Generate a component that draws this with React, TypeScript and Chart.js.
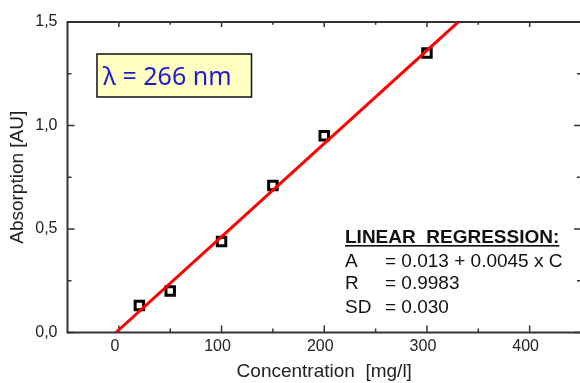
import { useEffect, useRef } from 'react';
import { Chart, registerables } from 'chart.js';

Chart.register(...registerables);

// Calibration points: concentration [mg/l] vs. absorption [AU]
const concentrations = [20, 50, 100, 150, 200, 300];
const absorptions = [0.13, 0.2, 0.44, 0.71, 0.95, 1.35];

// Linear regression A = a + b * C
const fitIntercept = 0.013;
const fitSlope = 0.0045;
const fitFrom = -2.9;
const fitTo = 330.4;

const xMajorTicks = [0, 100, 200, 300, 400];
const xTickLabels = ['0', '100', '200', '300', '400'];
const xMinorTicks = [50, 150, 250, 350];
const yMajorTicks = [0, 0.5, 1.0, 1.5];
const yTickLabels = ['0,0', '0,5', '1,0', '1,5'];
const yMinorTicks = [0.25, 0.75, 1.25];

const wavelengthLabel = 'λ = 266 nm';
const regressionTitle = 'LINEAR  REGRESSION:';
const regressionNames = ['A', 'R', 'SD'];
const regressionValues = ['= 0.013 + 0.0045 x C', '= 0.9983', '= 0.030'];

const FONT = "'Liberation Sans', Arial, sans-serif";
const INK = '#222';

const framePlugin = {
  id: 'frame',
  beforeDatasetsDraw(chart: any) {
    const { ctx, chartArea: a, scales } = chart;
    const xs = scales.x;
    const ys = scales.y;
    ctx.save();
    ctx.strokeStyle = '#333';
    ctx.lineWidth = 1.5;
    const major = 7;
    const minor = 4;
    const tickX = (v: number, len: number) => {
      const p = xs.getPixelForValue(v);
      ctx.beginPath();
      ctx.moveTo(p, a.bottom);
      ctx.lineTo(p, a.bottom - len);
      ctx.moveTo(p, a.top);
      ctx.lineTo(p, a.top + len * 0.7);
      ctx.stroke();
    };
    const tickY = (v: number, len: number) => {
      const p = ys.getPixelForValue(v);
      ctx.beginPath();
      ctx.moveTo(a.left, p);
      ctx.lineTo(a.left + len, p);
      ctx.moveTo(a.right, p);
      ctx.lineTo(a.right - len, p);
      ctx.stroke();
    };
    xMajorTicks.forEach((v) => tickX(v, major));
    xMinorTicks.forEach((v) => tickX(v, minor));
    yMajorTicks.forEach((v) => tickY(v, major));
    yMinorTicks.forEach((v) => tickY(v, minor));
    ctx.lineWidth = 2;
    ctx.strokeRect(a.left, a.top, a.right - a.left, a.bottom - a.top);
    ctx.restore();
  },
  afterDraw(chart: any) {
    const { ctx } = chart;
    ctx.save();
    // wavelength box
    ctx.fillStyle = '#ffffc2';
    ctx.fillRect(97, 54, 154.5, 43);
    ctx.strokeStyle = '#111';
    ctx.lineWidth = 1.5;
    ctx.strokeRect(97, 54, 154.5, 43);
    ctx.fillStyle = '#1c1cd4';
    ctx.font = "25px 'Noto Sans', 'DejaVu Sans', sans-serif";
    ctx.textBaseline = 'alphabetic';
    ctx.textAlign = 'left';
    ctx.fillText(wavelengthLabel, 103, 85);

    // regression summary
    ctx.fillStyle = '#111';
    ctx.font = `bold 19px ${FONT}`;
    ctx.fillText(regressionTitle, 345, 243);
    const w = ctx.measureText(regressionTitle).width;
    ctx.fillRect(345, 245, w, 1.6);
    ctx.font = `19px ${FONT}`;
    const baselines = [266.5, 289, 312.5];
    regressionNames.forEach((name, i) => {
      ctx.fillText(name, 345, baselines[i]);
      ctx.fillText(regressionValues[i], 385, baselines[i]);
    });
    ctx.restore();
  },
};

export default function App() {
  const canvasRef = useRef<HTMLCanvasElement | null>(null);

  useEffect(() => {
    const canvas = canvasRef.current;
    if (!canvas) return;
    const chart = new Chart(canvas, {
      type: 'scatter',
      data: {
        datasets: [
          {
            type: 'line',
            label: 'fit',
            data: [
              { x: fitFrom, y: fitIntercept + fitSlope * fitFrom },
              { x: fitTo, y: fitIntercept + fitSlope * fitTo },
            ],
            borderColor: '#ff0000',
            borderWidth: 3,
            pointRadius: 0,
            fill: false,
            order: 0,
          },
          {
            type: 'scatter',
            label: 'data',
            data: concentrations.map((c, i) => ({ x: c, y: absorptions[i] })),
            pointStyle: 'rect',
            pointRadius: 6,
            borderColor: '#000',
            backgroundColor: '#fff',
            borderWidth: 3,
            order: 1,
          },
        ],
      },
      options: {
        responsive: false,
        animation: false,
        devicePixelRatio: 1,
        layout: { padding: { top: 22, right: 8.5, left: 0, bottom: 0 } },
        plugins: { legend: { display: false }, tooltip: { enabled: false } },
        scales: {
          x: {
            type: 'linear',
            min: -50,
            max: 450,
            afterBuildTicks: (s: any) => {
              s.ticks = xMajorTicks.map((v) => ({ value: v }));
            },
            afterFit: (s: any) => {
              s.height = 50.5;
            },
            grid: { display: false, drawTicks: false },
            border: { display: false },
            ticks: {
              autoSkip: false,
              maxRotation: 0,
              padding: 4,
              labelOffset: -4,
              color: INK,
              font: { family: FONT, size: 16 },
              callback: (_v: any, i: number) => xTickLabels[i],
            },
            title: {
              display: true,
              text: 'Concentration  [mg/l]',
              color: INK,
              font: { family: FONT, size: 19 },
              padding: { top: 0, bottom: 0 },
            },
          },
          y: {
            type: 'linear',
            min: 0,
            max: 1.5,
            afterBuildTicks: (s: any) => {
              s.ticks = yMajorTicks.map((v) => ({ value: v }));
            },
            afterFit: (s: any) => {
              s.width = 67.5;
            },
            grid: { display: false, drawTicks: false },
            border: { display: false },
            ticks: {
              autoSkip: false,
              padding: 10,
              color: INK,
              font: { family: FONT, size: 16 },
              callback: (_v: any, i: number) => yTickLabels[i],
            },
            title: {
              display: true,
              text: 'Absorption [AU]',
              color: INK,
              font: { family: FONT, size: 19 },
              padding: { top: 6, bottom: 0 },
            },
          },
        },
      },
      plugins: [framePlugin],
    } as any);
    return () => chart.destroy();
  }, []);

  return (
    <div
      style={{
        position: 'fixed',
        left: 0,
        top: 0,
        width: 580,
        height: 383,
        overflow: 'hidden',
        background: '#fff',
      }}
    >
      <canvas ref={canvasRef} width={590} height={383} style={{ display: 'block' }} />
    </div>
  );
}
